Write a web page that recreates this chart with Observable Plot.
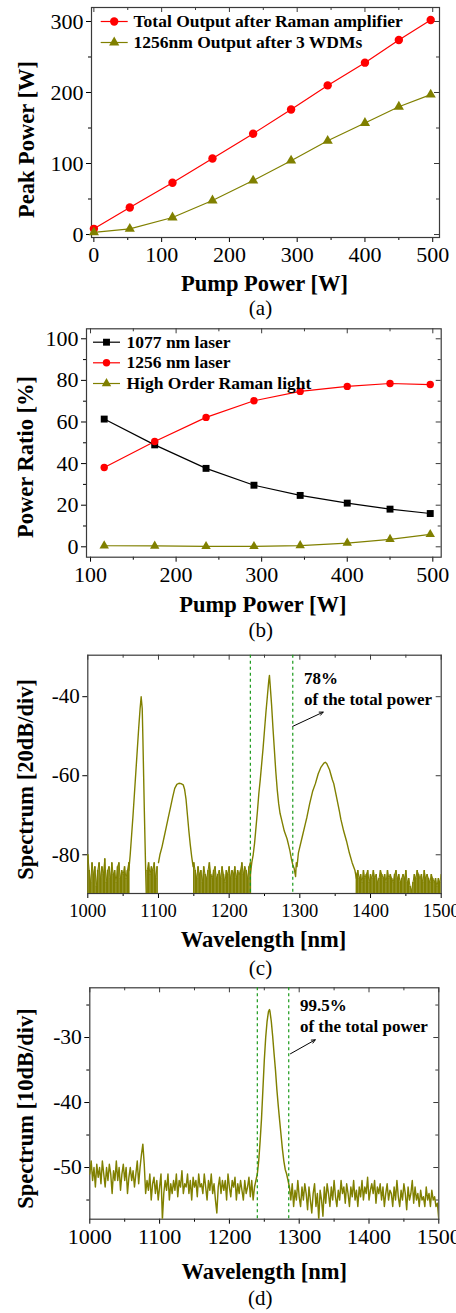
<!DOCTYPE html>
<html><head><meta charset="utf-8">
<script src="https://cdn.jsdelivr.net/npm/d3@7"></script>
<script src="https://cdn.jsdelivr.net/npm/@observablehq/plot@0.6"></script>
<style>
body{margin:0;background:#fff;}
#root{position:relative;width:456px;height:1313px;font-family:"Liberation Serif","Times New Roman",serif;}
#root svg{position:absolute;left:0;}
</style></head><body><div id="root"></div>
<script>
// ---------- Panel (a) ----------
const pumpA = [0, 53, 116, 175, 235, 291, 345, 400, 450, 497];
const totalA = [8, 38, 73, 107, 142, 176, 210, 242, 274, 302];
const out1256A = [3, 8, 24, 48, 76, 104, 132, 157, 180, 197];
const legendA = ["Total Output after Raman amplifier", "1256nm Output after 3 WDMs"];
const xTicksA = [0, 100, 200, 300, 400, 500];
const xMinorA = [50, 150, 250, 350, 450];
const yTicksA = [0, 100, 200, 300];
const yMinorA = [50, 150, 250];

// ---------- Panel (b) ----------
const pumpB = [116, 175, 235, 291, 345, 400, 450, 497];
const ratio1077 = [61.4, 49.0, 37.7, 29.6, 24.7, 21.0, 18.1, 16.0];
const ratio1256 = [38.1, 50.6, 62.2, 70.2, 74.7, 77.1, 78.5, 78.0];
const ratioHigh = [0.5, 0.4, 0.2, 0.2, 0.6, 1.8, 3.6, 6.0];
const legendB = ["1077 nm laser", "1256 nm laser", "High Order Raman light"];
const xTicksB = [100, 200, 300, 400, 500];
const xMinorB = [150, 250, 350, 450];
const yTicksB = [0, 20, 40, 60, 80, 100];
const yMinorB = [10, 30, 50, 70, 90];

// ---------- Panel (c): spectrum, 20 dB/div ----------
const peakC1077 = [[1058,-84],[1060,-80],[1062,-75],[1064,-70],[1066,-64.5],[1068,-59],[1070,-53.5],[1072,-48],[1074,-43],[1075.5,-40],[1077,-43],[1078,-51],[1079,-60],[1080,-69],[1081,-77],[1082,-85],[1083,-92]];
const peakC1130 = [[1100,-82],[1102,-80],[1105,-78],[1108,-75.5],[1111,-73],[1114,-70.5],[1117,-68],[1120,-65.5],[1123,-63.2],[1126,-62.2],[1129,-61.9],[1132,-62],[1135,-62.3],[1137,-63.5],[1139,-66],[1141,-70],[1143,-74],[1145,-77.5],[1147,-80.5],[1149,-83]];
const peakC1256 = [[1230,-85],[1232,-82],[1234,-80],[1236,-77],[1238,-73],[1240,-69],[1242,-64.5],[1244,-61],[1246,-57],[1248,-53],[1250,-48.5],[1252,-44],[1254,-40],[1256,-36],[1257,-34.6],[1258,-37],[1260,-42],[1262,-48],[1264,-53.5],[1266,-59],[1268,-63.5],[1270,-67],[1272,-69.5],[1274,-71],[1276,-72.5],[1278,-74],[1280,-75],[1282,-76],[1284,-77.5],[1286,-79],[1288,-81],[1290,-82.5],[1292,-83.5],[1294,-85.5],[1295,-82],[1296,-83],[1298,-79.5],[1300,-78],[1304,-75],[1308,-72],[1310,-70.5],[1314,-67],[1318,-64],[1322,-62],[1326,-59.5],[1330,-57.8],[1334,-56.8],[1336,-56.6],[1338,-56.9],[1342,-58.5],[1346,-61],[1348,-62],[1352,-65.5],[1356,-69],[1358,-71],[1362,-74],[1366,-76.5],[1370,-79.5],[1374,-82],[1378,-84],[1380,-86]];
const noiseCStarts = [1000, 1084, 1150, 1380];
const noiseCStep = 2;
const noiseC1 = [-80,-84,-87,-82,-85,-83,-88,-84,-82,-86,-83,-85,-81,-87,-84,-83,-86,-82,-85,-84,-87,-83,-82,-86,-84,-85,-83,-86,-84,-82];
const noiseC2 = [-84,-82,-85,-83,-84,-82,-86,-83];
const noiseC3 = [-82,-84,-86,-83,-85,-84,-87,-83,-85,-86,-84,-82,-85,-86,-84,-83,-86,-85,-84,-86,-83,-85,-87,-84,-85,-83,-86,-84,-85,-83,-86,-84,-85,-84,-82,-85,-83,-84,-86,-83,-82];
const noiseC4 = [-85,-84,-86,-85,-87,-84,-86,-85,-84,-87,-85,-86,-84,-86,-85,-87,-86,-84,-85,-86,-85,-87,-84,-86,-85,-86,-87,-85,-84,-86,-85,-87,-86,-85,-86,-84,-87,-86,-88,-89,-87,-85,-86,-84,-85,-86,-85,-87,-84,-86,-85,-86,-87,-85,-86,-87,-86,-88,-86,-87,-85];
const markersC = [1230, 1290];
const annC = ["78%", "of the total power"];
const annCx = 1306, annCy = [-36.9, -42.2];
const arrowC = [{x1: 1290, y1: -47.5, x2: 1333, y2: -43.9}];
const xTicksC = [1000, 1100, 1200, 1300, 1400, 1500];
const xMinorC = [1050, 1150, 1250, 1350, 1450];
const yTicksC = [-80, -60, -40];

// ---------- Panel (d): spectrum, 10 dB/div ----------
const specD1Start = 1000, specDStep = 2;
const specD1 = [
 -51,-49,-52,-50,-53,-49.5,-51.5,-50,-52.5,-49,
 -51,-53,-50,-52,-49.5,-51,-54,-50.5,-52,-49,
 -52,-50,-53.5,-51,-49.5,-52,-50,-54,-51.5,-50,
 -52,-50.5,-53,-51,-49,-52.5,-50,-48,-46.4,-49.5,
 -54,-52,-53.5,-51,-55,-52.5,-51.5,-54,-52,-55,
 -53,-51,-58,-54,-52,-53.5,-51,-55,-52.5,-54,
 -52,-53.5,-51,-54.5,-52,-53,-50.5,-54,-52.5,-53,
 -51,-54,-52,-55,-51.5,-53,-52,-54.5,-51,-53,
 -52.5,-54,-51,-53,-55,-52,-53.5,-51,-54,-52.5,
 -55,-57,-53,-51.5,-54,-52,-53.5,-52,-55,-51,
 -53,-54.5,-52,-53,-51.5,-55,-52.5,-54,-52,-53.5,
 -55,-52,-54,-53,-51.5,-54.5,-52,-55,-53,-52];
const peakD1256 = [[1238,-52],[1240,-51],[1242,-49],[1244,-46],[1246,-42.5],[1248,-38],[1250,-33.5],[1252,-30],[1254,-27.5],[1256,-26],[1257.4,-25.7],[1258,-25.9],[1260,-27.5],[1262,-29.8],[1264,-32.5],[1266,-35],[1268,-38],[1270,-40.5],[1272,-42.8],[1274,-45],[1276,-47.2],[1278,-49],[1280,-50.3],[1282,-51],[1284,-52],[1286,-53]];
const specD3Start = 1286;
const specD3 = [
 -53,-55,-52.5,-56,-53.5,-55,-52,-54.5,-56,-53,
 -55,-52.5,-54,-56.5,-53,-55,-57,-54,-52.5,-56,
 -54,-58,-53.5,-55,-57.5,-53,-55.5,-52.5,-54,-56,
 -53,-55,-52,-54.5,-56,-53.5,-55,-52,-54,-53,
 -55.5,-52.5,-54,-56,-53,-54.5,-52,-55,-53.5,-56,
 -53,-54.5,-52,-55,-53,-54,-51.5,-55,-53.5,-52.5,
 -54,-52,-55.5,-53,-54,-52.5,-55,-53,-56,-54,
 -52.5,-55,-53.5,-54,-56,-53,-55,-52,-54.5,-56,
 -53.5,-55,-52.5,-54,-56.5,-53,-55,-54,-52,-55.5,
 -53,-55,-54,-56,-53.5,-55,-54.5,-56,-53,-55,
 -54,-56,-53.5,-55,-54.5,-56,-55.5,-58];
const markersD = [1240, 1285];
const annD = ["99.5%", "of the total power"];
const annDx = 1301, annDy = [-25.95, -29.2];
const arrowD = [{x1: 1287.5, y1: -32.5, x2: 1323, y2: -30.35}];
const xTicksD = [1000, 1100, 1200, 1300, 1400, 1500];
const xMinorD = [1050, 1150, 1250, 1350, 1450];
const yTicksD = [-50, -40, -30];
const yMinorD = [-55, -45, -35, -25];

// ---------- styling ----------
const RED = "#ff0000", OLIVE = "#808000", BLACK = "#000000", GREEN = "#1a9a1a";
const FONT = "Liberation Serif, Times New Roman, serif";
const FRAME = "#3a3a3a";
const LEG_FS = 17.5;

function frameMarks(o) {
  const fw = 456 - o.ml - o.mr, fh = o.H - o.mt - o.mb;
  const fmt = d => String(d);
  const m = [
    Plot.axisX(o.xT, {anchor: "bottom", tickSize: 5, tickPadding: o.xPad, fontSize: o.xfs, tickFormat: fmt, label: null}),
    Plot.axisY(o.yT, {anchor: "left", tickSize: 5, tickPadding: 3, fontSize: o.yfs, tickFormat: fmt, label: null}),
    Plot.tickX(o.xT, {x: d => d, insetBottom: fh - 5, stroke: FRAME}),
    Plot.tickY(o.yT, {y: d => d, insetLeft: fw - 5, stroke: FRAME})
  ];
  if (o.xM) {
    m.push(Plot.axisX(o.xM, {anchor: "bottom", tickSize: 3, tickFormat: () => "", label: null}));
    m.push(Plot.tickX(o.xM, {x: d => d, insetBottom: fh - 3, stroke: FRAME}));
  }
  if (o.yM) {
    m.push(Plot.axisY(o.yM, {anchor: "left", tickSize: 3, tickFormat: () => "", label: null}));
    m.push(Plot.tickY(o.yM, {y: d => d, insetLeft: fw - 3, stroke: FRAME}));
  }
  m.push(Plot.frame({stroke: FRAME, strokeWidth: 1.2}));
  m.push(Plot.text([o.xLabel], {frameAnchor: "bottom", dx: o.xlDx, dy: o.xlDy, lineAnchor: "bottom", fontSize: 22.5, fontWeight: "bold", fill: BLACK}));
  m.push(Plot.text([o.cap], {frameAnchor: "bottom", dx: o.capDx, dy: o.capDy, lineAnchor: "bottom", fontSize: 21, fill: BLACK}));
  m.push(Plot.text([o.yLabel], {frameAnchor: "left", rotate: -90, dx: o.ylDx, dy: o.ylDy, lineAnchor: "middle", textAnchor: "middle", fontSize: 22.5, fontWeight: "bold", fill: BLACK}));
  return m;
}

function makePlot(o, marks) {
  const svg = Plot.plot({
    width: 456, height: o.H,
    marginLeft: o.ml, marginRight: o.mr, marginTop: o.mt, marginBottom: o.mb,
    style: {fontFamily: FONT, color: "black", background: "transparent", overflow: "visible"},
    x: {domain: o.xD, axis: null},
    y: {domain: o.yD, axis: null},
    marks: [...frameMarks(o), ...marks]
  });
  svg.style.top = o.top + "px";
  svg.style.position = "absolute";
  document.getElementById("root").appendChild(svg);
}

const lineSym = {draw(ctx) { ctx.moveTo(-13.5, 0); ctx.lineTo(13.5, 0); }};

function legendEntry(label, color, symbol, r, dxSym, dxText, dy) {
  return [
    Plot.dot([0], {frameAnchor: "top-left", dx: dxSym, dy, symbol: lineSym, stroke: color, strokeWidth: 1.2}),
    Plot.dot([0], {frameAnchor: "top-left", dx: dxSym, dy, r, symbol, fill: color}),
    Plot.text([label], {frameAnchor: "top-left", dx: dxText, dy, fontSize: LEG_FS, fontWeight: "bold", textAnchor: "start", lineAnchor: "middle", fill: BLACK})
  ];
}

// ---- (a)
const rowsA = pumpA.flatMap((p, i) => [
  {x: p, y: totalA[i], s: "total"},
  {x: p, y: out1256A[i], s: "out"}
]);
makePlot({
  top: 0, H: 320, ml: 91, mr: 17, mt: 7, mb: 83,
  xD: [-3.5, 510], yD: [-4.2, 319.7],
  xT: xTicksA, xM: xMinorA, yT: yTicksA, yM: yMinorA, xfs: 22, yfs: 22, xPad: 4,
  xLabel: "Pump Power [W]", xlDx: -1, xlDy: 53.7,
  cap: "(a)", capDx: -5, capDy: 77,
  yLabel: "Peak Power [W]", ylDx: -64.3, ylDy: 17
}, [
  Plot.line(rowsA.filter(d => d.s === "total"), {x: "x", y: "y", stroke: RED, strokeWidth: 1.2}),
  Plot.line(rowsA.filter(d => d.s === "out"), {x: "x", y: "y", stroke: OLIVE, strokeWidth: 1.2}),
  Plot.dot(rowsA.filter(d => d.s === "total"), {x: "x", y: "y", r: 4.2, fill: RED}),
  Plot.dot(rowsA.filter(d => d.s === "out"), {x: "x", y: "y", r: 3.8, symbol: "triangle", fill: OLIVE}),
  ...legendEntry(legendA[0], RED, "circle", 4.2, 22.7, 42, 14),
  ...legendEntry(legendA[1], OLIVE, "triangle", 3.8, 22.7, 42, 35)
]);

// ---- (b)
const rowsB = pumpB.flatMap((p, i) => [
  {x: p, y: ratio1077[i], s: "1077"},
  {x: p, y: ratio1256[i], s: "1256"},
  {x: p, y: ratioHigh[i], s: "high"}
]);
makePlot({
  top: 320, H: 325, ml: 86, mr: 15.3, mt: 8.3, mb: 88.3,
  xD: [95.3, 509.8], yD: [-5, 104.8],
  xT: xTicksB, xM: xMinorB, yT: yTicksB, yM: yMinorB, xfs: 22, yfs: 22, xPad: 4,
  xLabel: "Pump Power [W]", xlDx: -1, xlDy: 55,
  cap: "(b)", capDx: -3, capDy: 79.3,
  yLabel: "Power Ratio [%]", ylDx: -61, ylDy: 14
}, [
  Plot.line(rowsB.filter(d => d.s === "1077"), {x: "x", y: "y", stroke: BLACK, strokeWidth: 1.2}),
  Plot.line(rowsB.filter(d => d.s === "1256"), {x: "x", y: "y", stroke: RED, strokeWidth: 1.2}),
  Plot.line(rowsB.filter(d => d.s === "high"), {x: "x", y: "y", stroke: OLIVE, strokeWidth: 1.2}),
  Plot.dot(rowsB.filter(d => d.s === "1077"), {x: "x", y: "y", r: 3.9, symbol: "square", fill: BLACK}),
  Plot.dot(rowsB.filter(d => d.s === "1256"), {x: "x", y: "y", r: 3.7, fill: RED}),
  Plot.dot(rowsB.filter(d => d.s === "high"), {x: "x", y: "y", r: 3.5, symbol: "triangle", fill: OLIVE}),
  ...legendEntry(legendB[0], BLACK, "square", 3.9, 20, 40, 13.4),
  ...legendEntry(legendB[1], RED, "circle", 3.7, 20, 40, 34),
  ...legendEntry(legendB[2], OLIVE, "triangle", 3.5, 20, 40, 54.7)
]);

// ---- (c)
const noiseCArrays = [noiseC1, noiseC2, noiseC3, noiseC4];
const noiseRowsC = noiseCArrays.flatMap((arr, k) => arr.map((v, i) => ({x: noiseCStarts[k] + i * noiseCStep, y: v, k})));
const peakRowsC = [peakC1077, peakC1130, peakC1256].flatMap((seg, k) => seg.map(([x, y]) => ({x, y, seg: k})));
const floorC = -95;
makePlot({
  top: 645, H: 340, ml: 87.3, mr: 15.3, mt: 9.7, mb: 92,
  xD: [1000, 1500], yD: [-89.8, -29.5],
  xT: xTicksC, xM: xMinorC, yT: yTicksC, yM: null, xfs: 18.5, yfs: 21, xPad: 5,
  xLabel: "Wavelength [nm]", xlDx: -1, xlDy: 53.7,
  cap: "(c)", capDx: -4, capDy: 81,
  yLabel: "Spectrum [20dB/div]", ylDx: -62.3, ylDy: 5
}, [
  Plot.ruleX(noiseRowsC, {x: "x", y1: () => floorC, y2: "y", stroke: OLIVE, strokeWidth: 1.6, clip: true}),
  Plot.line(noiseRowsC, {x: "x", y: "y", z: "k", stroke: OLIVE, strokeWidth: 1, clip: true}),
  Plot.line(peakRowsC, {x: "x", y: "y", z: "seg", stroke: OLIVE, strokeWidth: 1.4, clip: true}),
  Plot.ruleX(markersC, {x: d => d, stroke: GREEN, strokeWidth: 1.2, strokeDasharray: "3,3"}),
  Plot.text([annC[0]], {x: () => annCx, y: () => annCy[0], textAnchor: "start", lineAnchor: "bottom", fontSize: 17, fontWeight: "bold", fill: BLACK}),
  Plot.text([annC[1]], {x: () => annCx, y: () => annCy[1], textAnchor: "start", lineAnchor: "bottom", fontSize: 17, fontWeight: "bold", fill: BLACK}),
  Plot.arrow(arrowC, {x1: "x1", y1: "y1", x2: "x2", y2: "y2", stroke: BLACK, strokeWidth: 1, headLength: 6, headAngle: 50})
]);

// ---- (d)
const lineRowsD = [
  ...specD1.map((v, i) => ({x: specD1Start + i * specDStep, y: v})),
  ...peakD1256.map(([x, y]) => ({x, y})),
  ...specD3.map((v, i) => ({x: specD3Start + i * specDStep, y: v}))
];
makePlot({
  top: 985, H: 328, ml: 89.3, mr: 17.7, mt: 2.3, mb: 94.3,
  xD: [1000, 1500], yD: [-57.95, -22.35],
  xT: xTicksD, xM: xMinorD, yT: yTicksD, yM: yMinorD, xfs: 22, yfs: 21.5, xPad: 4,
  xLabel: "Wavelength [nm]", xlDx: 0, xlDy: 59.6,
  cap: "(d)", capDx: -4, capDy: 85.3,
  yLabel: "Spectrum [10dB/div]", ylDx: -64.3, ylDy: 5
}, [
  Plot.line(lineRowsD, {x: "x", y: "y", stroke: OLIVE, strokeWidth: 1.45, clip: true}),
  Plot.ruleX(markersD, {x: d => d, stroke: GREEN, strokeWidth: 1.2, strokeDasharray: "3,3"}),
  Plot.text([annD[0]], {x: () => annDx, y: () => annDy[0], textAnchor: "start", lineAnchor: "bottom", fontSize: 17, fontWeight: "bold", fill: BLACK}),
  Plot.text([annD[1]], {x: () => annDx, y: () => annDy[1], textAnchor: "start", lineAnchor: "bottom", fontSize: 17, fontWeight: "bold", fill: BLACK}),
  Plot.arrow(arrowD, {x1: "x1", y1: "y1", x2: "x2", y2: "y2", stroke: BLACK, strokeWidth: 1, headLength: 6, headAngle: 50})
]);
</script>
</body></html>
